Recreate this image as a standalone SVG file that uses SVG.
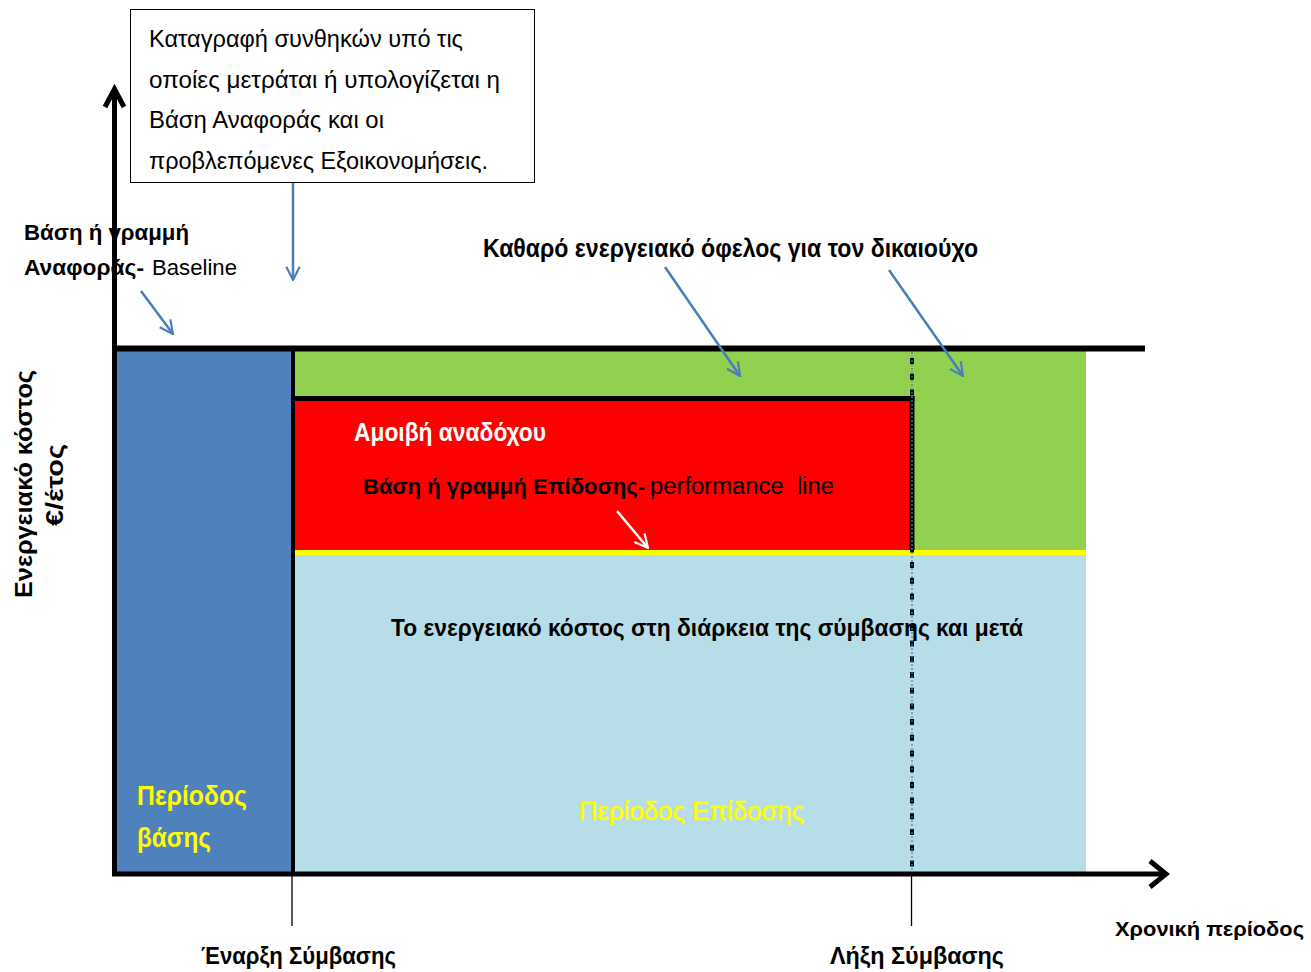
<svg xmlns="http://www.w3.org/2000/svg" width="1311" height="972" viewBox="0 0 1311 972">
<style>
text{font-family:"Liberation Sans",Arial,sans-serif;}
.b{font-weight:bold;}
.yel{fill:#FFFF00;}
.ln{stroke:#000;fill:none;}
.arr{stroke:#4A7EBB;stroke-width:2.5;fill:none;marker-end:url(#ah);}
</style>
<defs>
<marker id="ah" viewBox="0 0 12 12" refX="11" refY="6" markerWidth="16" markerHeight="16" markerUnits="userSpaceOnUse" orient="auto">
<path d="M1,1 L11,6 L1,11" fill="none" stroke="#4A7EBB" stroke-width="1.6"/>
</marker>
<marker id="ahw" viewBox="0 0 12 12" refX="11" refY="6" markerWidth="16" markerHeight="16" markerUnits="userSpaceOnUse" orient="auto">
<path d="M1,1 L11,6 L1,11" fill="none" stroke="#FFFFFF" stroke-width="1.6"/>
</marker>
<clipPath id="boxclip"><rect x="130" y="9" width="405" height="164"/></clipPath>
</defs>
<rect width="1311" height="972" fill="#FFFFFF"/>

<g id="areas">
<rect id="baseline-period" x="116" y="351" width="177" height="522" fill="#4F81BD"/>
<rect id="benefit" x="294" y="351" width="792" height="200" fill="#92D050"/>
<rect id="cost-area" x="294" y="553" width="792" height="319" fill="#B7DDE8"/>
<rect id="fee" x="294" y="400" width="617" height="151" fill="#FF0000"/>
</g>

<g id="lines">
<line class="ln" x1="293" y1="398.5" x2="914.5" y2="398.5" stroke-width="5"/>
<line class="ln" x1="912" y1="396" x2="912" y2="551" stroke-width="5"/>
<line x1="293" y1="552.5" x2="1086" y2="552.5" stroke="#FFFF00" stroke-width="5"/>
<line class="ln" x1="293" y1="348" x2="293" y2="875" stroke-width="4"/>
<line class="ln" x1="112" y1="348.5" x2="1145" y2="348.5" stroke-width="6"/>
<line class="ln" x1="292" y1="874" x2="292" y2="926" stroke-width="1.3"/>
<line class="ln" x1="911.5" y1="874" x2="911.5" y2="926" stroke-width="1.3"/>
<line x1="912" y1="352" x2="912" y2="873" stroke="#000" stroke-width="4" stroke-dasharray="6 9.7" stroke-dashoffset="-6"/>
<line x1="912" y1="352" x2="912" y2="873" stroke="#4A7EBB" stroke-width="1.2" stroke-dasharray="2 2"/>
</g>

<g id="axes">
<line class="ln" x1="114.5" y1="90" x2="114.5" y2="876" stroke-width="5"/>
<polyline class="ln" points="105,107 114.5,89 124,107" stroke-width="5" stroke-linejoin="miter"/>
<line class="ln" x1="112" y1="874" x2="1166" y2="874" stroke-width="5"/>
<polyline class="ln" points="1150,861 1166,874 1150,887" stroke-width="5" stroke-linejoin="miter"/>
</g>

<g id="note-box">
<rect x="130.5" y="9.5" width="404" height="173" fill="#FFFFFF" stroke="#000" stroke-width="1"/>
<g clip-path="url(#boxclip)" font-size="23">
<text x="149" y="47" textLength="314" lengthAdjust="spacingAndGlyphs">Καταγραφή συνθηκών υπό τις</text>
<text x="149" y="88" textLength="351" lengthAdjust="spacingAndGlyphs">οποίες μετράται ή υπολογίζεται η</text>
<text x="149" y="128" textLength="235" lengthAdjust="spacingAndGlyphs">Βάση Αναφοράς και οι</text>
<text x="149" y="169" textLength="339" lengthAdjust="spacingAndGlyphs">προβλεπόμενες Εξοικονομήσεις.</text>
</g>
</g>

<g id="connectors">
<line class="arr" x1="141" y1="291" x2="173" y2="334"/>
<line class="arr" x1="293" y1="183" x2="293" y2="280"/>
<line class="arr" x1="665" y1="267" x2="740" y2="376"/>
<line class="arr" x1="889" y1="270" x2="963" y2="376"/>
<line x1="617" y1="511" x2="648" y2="548" stroke="#FFFFFF" stroke-width="2.5" marker-end="url(#ahw)"/>
</g>

<g id="label-baseline">
<text class="b" x="24" y="240" font-size="22" textLength="165" lengthAdjust="spacingAndGlyphs">Βάση ή γραμμή</text>
<text class="b" x="24" y="275" font-size="22" textLength="120" lengthAdjust="spacingAndGlyphs">Αναφοράς-</text>
<text x="152" y="275" font-size="22" textLength="85" lengthAdjust="spacingAndGlyphs">Baseline</text>
</g>

<g id="label-benefit">
<text class="b" x="483" y="257" font-size="25" textLength="495" lengthAdjust="spacingAndGlyphs">Καθαρό ενεργειακό όφελος για τον δικαιούχο</text>
</g>

<g id="label-fee">
<text class="b" x="354" y="441" font-size="25" fill="#FFFFFF" textLength="192" lengthAdjust="spacingAndGlyphs">Αμοιβή αναδόχου</text>
</g>

<g id="label-performance">
<text class="b" x="363" y="494" font-size="22" textLength="282" lengthAdjust="spacingAndGlyphs">Βάση ή γραμμή Επίδοσης-</text>
<text x="650" y="494" font-size="23" textLength="184" lengthAdjust="spacingAndGlyphs" xml:space="preserve">performance  line</text>
</g>

<g id="label-cost">
<text class="b" x="391" y="636" font-size="24" textLength="632" lengthAdjust="spacingAndGlyphs">Το ενεργειακό κόστος στη διάρκεια της σύμβασης και μετά</text>
</g>

<g id="label-base-period">
<text class="b yel" x="137" y="805" font-size="27" textLength="110" lengthAdjust="spacingAndGlyphs">Περίοδος</text>
<text class="b yel" x="137" y="847" font-size="27" textLength="74" lengthAdjust="spacingAndGlyphs">βάσης</text>
</g>

<g id="label-perf-period">
<text class="yel" x="579" y="820" font-size="26" stroke="#FFFF00" stroke-width="0.6" textLength="225" lengthAdjust="spacingAndGlyphs">Περίοδος Επίδοσης</text>
</g>

<g id="label-yaxis">
<text class="b" transform="translate(32,484) rotate(-90)" text-anchor="middle" font-size="23" textLength="228" lengthAdjust="spacingAndGlyphs">Ενεργειακό κόστος</text>
<text class="b" transform="translate(63,485) rotate(-90)" text-anchor="middle" font-size="23" textLength="82" lengthAdjust="spacingAndGlyphs">€/έτος</text>
</g>

<g id="label-start">
<text class="b" x="201" y="964" font-size="23" textLength="195" lengthAdjust="spacingAndGlyphs">Έναρξη Σύμβασης</text>
</g>
<g id="label-end">
<text class="b" x="830" y="964" font-size="23" textLength="174" lengthAdjust="spacingAndGlyphs">Λήξη Σύμβασης</text>
</g>
<g id="label-xaxis">
<text class="b" x="1115" y="936" font-size="21" textLength="189" lengthAdjust="spacingAndGlyphs">Χρονική περίοδος</text>
</g>
</svg>
